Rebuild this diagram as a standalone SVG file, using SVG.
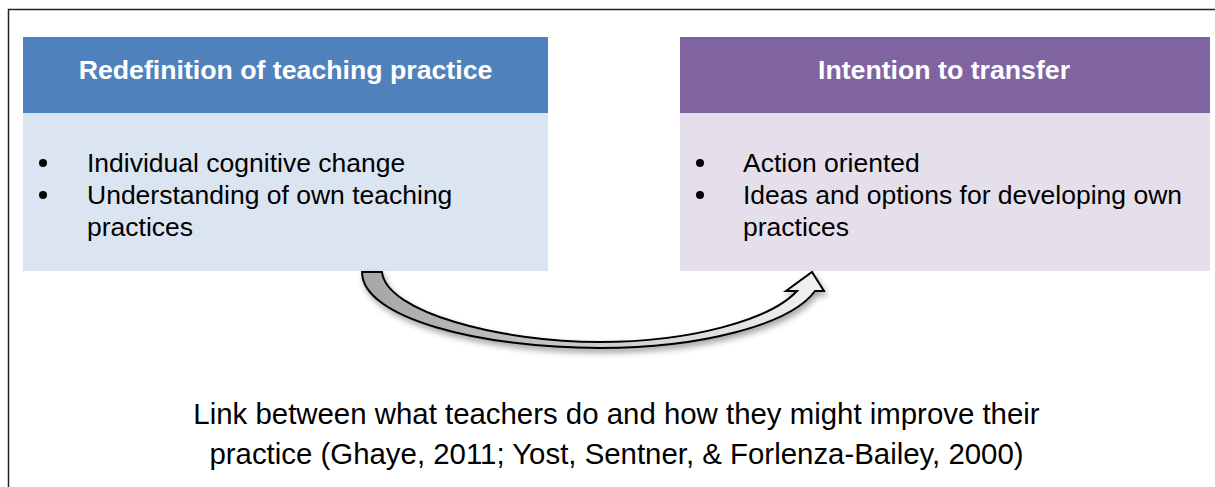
<svg xmlns="http://www.w3.org/2000/svg" width="1215" height="487" viewBox="0 0 1215 487">
<style>
.hd{font-family:"Liberation Sans",Arial,sans-serif;font-size:26.7px;font-weight:bold;fill:#fff;text-anchor:middle}
.tx{font-family:"Liberation Sans",Arial,sans-serif;font-size:26.5px;fill:#000}
.cap{font-family:"Liberation Sans",Arial,sans-serif;font-size:29.4px;fill:#000;text-anchor:middle}
</style>
<defs>
<linearGradient id="ag" x1="0" y1="0" x2="1" y2="0">
<stop offset="0" stop-color="#a6a6a6"/>
<stop offset="1" stop-color="#f2f2f2"/>
</linearGradient>
<filter id="sh" x="-10%" y="-20%" width="120%" height="140%">
<feGaussianBlur in="SourceAlpha" stdDeviation="3"/>
<feOffset dx="2" dy="4"/>
<feComponentTransfer><feFuncA type="linear" slope="0.35"/></feComponentTransfer>
<feMerge><feMergeNode/><feMergeNode in="SourceGraphic"/></feMerge>
</filter>
</defs>
<rect width="1215" height="487" fill="#fff"/>
<path d="M8.5 487 V9.5 H1215" fill="none" stroke="#222" stroke-width="1.5"/>
<g id="node-redefinition">
<rect x="23" y="37" width="525" height="76" fill="#4F81BD"/>
<rect x="23" y="113" width="525" height="158" fill="#DBE5F1"/>
<text class="hd" x="285.5" y="79">Redefinition of teaching practice</text>
<circle cx="43" cy="163" r="4" fill="#000"/>
<circle cx="43" cy="195" r="4" fill="#000"/>
<text class="tx" x="87" y="172">Individual cognitive change</text>
<text class="tx" x="87" y="204">Understanding of own teaching</text>
<text class="tx" x="87" y="236">practices</text>
</g>
<g id="node-intention">
<rect x="680" y="37" width="530" height="76" fill="#8064A2"/>
<rect x="680" y="113" width="530" height="158" fill="#E5DFEC"/>
<text class="hd" x="944" y="79">Intention to transfer</text>
<circle cx="700" cy="163" r="4" fill="#000"/>
<circle cx="700" cy="195" r="4" fill="#000"/>
<text class="tx" x="743" y="172">Action oriented</text>
<text class="tx" x="743" y="204">Ideas and options for developing own</text>
<text class="tx" x="743" y="236">practices</text>
</g>
<g id="connectors">
<path filter="url(#sh)" fill="url(#ag)" stroke="#000" stroke-width="2" stroke-linejoin="miter" d="M362 272 H382 C386 312 500 342 600 342 C690 342 770 320 797 291 H786 L812 272 L824 291 H815 C790 325 700 348 600 348 C480 348 362 318 362 272 Z"/>
</g>
<g id="caption">
<text class="cap" x="616.5" y="424">Link between what teachers do and how they might improve their</text>
<text class="cap" x="616.5" y="464">practice (Ghaye, 2011; Yost, Sentner, &amp; Forlenza-Bailey, 2000)</text>
</g>
</svg>
